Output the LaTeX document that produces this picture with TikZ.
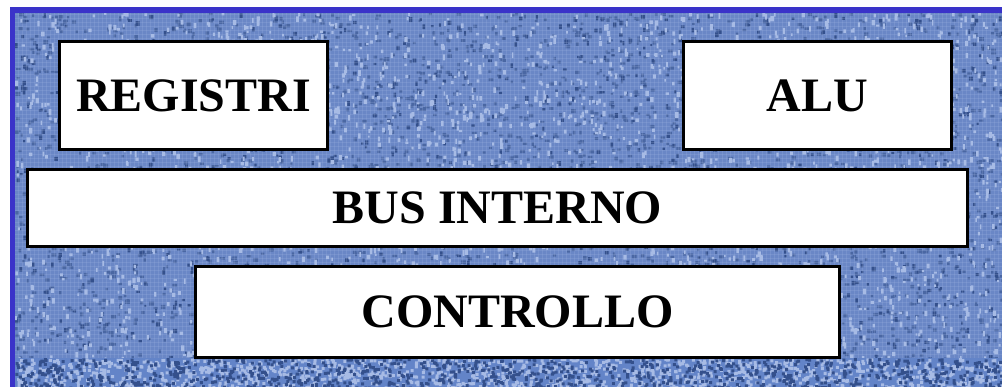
\documentclass[tikz,border=0pt]{standalone}
\usepackage{fontspec}
\setmainfont{Liberation Serif}
\definecolor{bgbase}{HTML}{6A87C6}
\definecolor{bgdark}{HTML}{4A67A3}
\definecolor{bgdeep}{HTML}{34508C}
\definecolor{bglight}{HTML}{A7BBE5}
\definecolor{stripbase}{HTML}{6384C8}
\definecolor{framecol}{HTML}{3A33C9}
\begin{document}
\begin{tikzpicture}[x=1pt,y=-1pt,
  blk/.style={draw=black,line width=3pt,fill=white,inner sep=0pt,
    font=\bfseries\fontsize{48}{52}\selectfont},
  weave/.style={draw=bglight,line width=0.6pt,opacity=0.2}
]
\useasboundingbox (0,0) rectangle (1002,387);
\begin{scope}
  \clip (0,0) rectangle (1002,387);
  % textured cloth background
  \fill[bgbase] (12,10) rectangle (1010,395);
  \pgfmathsetseed{11}
  \fill[bgdark] \foreach \i in {1,...,3000}{({14+990*rnd},{12+346*rnd}) rectangle ++({2+3*rnd},{2+2*rnd})};
  \fill[bgdeep] \foreach \i in {1,...,1200}{({14+990*rnd},{12+346*rnd}) rectangle ++({2+2*rnd},{2+3*rnd})};
  \fill[bglight] \foreach \i in {1,...,2800}{({14+990*rnd},{12+346*rnd}) rectangle ++({1.5+2*rnd},{2+4*rnd})};
  \draw[weave] \foreach \x in {14,18,...,1002}{(\x,12) -- (\x,358)};
  \draw[weave] \foreach \y in {14,18,...,358}{(12,\y) -- (1002,\y)};
  % bottom strip with a coarser mosaic texture
  \fill[stripbase] (12,358) rectangle (1010,395);
  \fill[bglight] \foreach \i in {1,...,1500}{({14+990*rnd},{358+29*rnd}) rectangle ++(3,3)};
  \fill[bgdeep] \foreach \i in {1,...,1000}{({14+990*rnd},{358+29*rnd}) rectangle ++(3,3)};
  % frame
  \draw[framecol,line width=5.5pt] (12.5,395) |- (1010,10);
\end{scope}
\node[blk,minimum width=268,minimum height=108] (registri) at (193.5,95.5) {REGISTRI};
\node[blk,minimum width=268,minimum height=108] (alu) at (817.5,95.5) {ALU};
\node[blk,minimum width=940,minimum height=77] (bus) at (497.5,208) {BUS INTERNO};
\node[blk,minimum width=644,minimum height=91] (controllo) at (517.5,312) {CONTROLLO};
\end{tikzpicture}
\end{document}
